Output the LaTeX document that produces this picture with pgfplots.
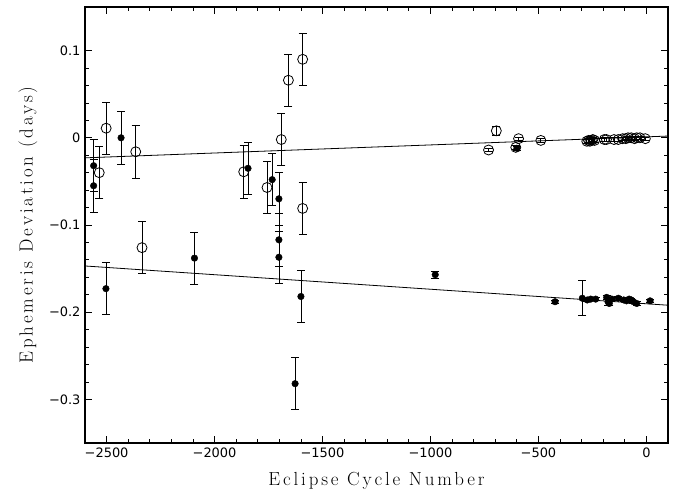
\documentclass[border=0pt]{standalone}
\usepackage{fontspec}
\usepackage{pgfplots}
\pgfplotsset{compat=1.18}
\usepackage{pgfplotstable}
\setsansfont{DejaVu Sans}
\newfontfamily\labelfont{Latin Modern Roman}[LetterSpace=15]

% Open circles, large timing uncertainties (white-filled markers)
\pgfplotstableread{
x y e
-2534 -0.040 0.03
-2502 0.011 0.03
-2365 -0.016 0.03
-2336 -0.126 0.03
-1865 -0.039 0.03
-1757 -0.057 0.03
-1691 -0.002 0.03
-1658 0.066 0.03
-1592 0.090 0.03
-1592 -0.081 0.03
}\openbig

% Open circles, precise timings
\pgfplotstableread{
x y e
-731 -0.014 0.002
-695 0.008 0.005
-605 -0.011 0.002
-592 -0.001 0.002
-489 -0.003 0.002
-276 -0.004 0.002
-268 -0.003 0.002
-262 -0.004 0.002
-255 -0.003 0.002
-248 -0.002 0.002
-240 -0.003 0.002
-195 -0.002 0.002
-185 -0.002 0.002
-150 -0.002 0.002
-130 -0.002 0.002
-110 -0.001 0.002
-95 -0.001 0.002
-85 0.000 0.002
-70 0.000 0.002
-55 -0.001 0.002
-45 0.000 0.002
-30 0.000 0.002
-5 -0.001 0.002
}\opensmall

% Filled circles
\pgfplotstableread{
x y e
-2560 -0.032 0.03
-2560 -0.055 0.03
-2503 -0.173 0.03
-2433 0.000 0.03
-2093 -0.138 0.03
-1845 -0.035 0.03
-1733 -0.048 0.03
-1702 -0.070 0.03
-1702 -0.117 0.03
-1702 -0.137 0.03
-1627 -0.282 0.03
-1600 -0.182 0.03
-978 -0.157 0.004
-600 -0.012 0.002
-423 -0.188 0.002
-297 -0.184 0.02
-274 -0.186 0.002
-258 -0.185 0.002
-235 -0.185 0.002
-184 -0.183 0.002
-178 -0.188 0.004
-172 -0.190 0.002
-160 -0.185 0.002
-130 -0.184 0.002
-105 -0.186 0.002
-92 -0.187 0.002
-80 -0.185 0.002
-70 -0.186 0.002
-60 -0.188 0.002
-45 -0.190 0.002
17 -0.187 0.002
}\filled

\begin{document}
\begin{tikzpicture}
\begin{axis}[
  scale only axis, width=583bp, height=436bp,
  xmin=-2600, xmax=100, ymin=-0.35, ymax=0.15,
  xtick={-2500,-2000,-1500,-1000,-500,0},
  xticklabels={−2500,−2000,−1500,−1000,−500,0},
  ytick={-0.3,-0.2,-0.1,0,0.1},
  yticklabels={−0.3,−0.2,−0.1,0,0.1},
  minor x tick num=4, minor y tick num=4,
  xtick pos=both, ytick pos=both, tick align=inside,
  major tick length=7bp, minor tick length=4bp,
  every tick/.style={black, line width=0.8bp},
  axis line style={line width=1.3bp},
  tick label style={font=\sffamily\fontsize{13}{15}\selectfont},
  xticklabel style={yshift=-1bp},
  yticklabel style={xshift=-1bp},
  xlabel={Eclipse Cycle Number},
  ylabel={Ephemeris Deviation (days)},
  every axis x label/.style={at={(axis description cs:0.5,-0.087)}, anchor=center,
    font=\labelfont\fontsize{19}{22}\selectfont},
  every axis y label/.style={at={(axis description cs:-0.098,0.5)}, anchor=center, rotate=90,
    font=\labelfont\fontsize{19}{22}\selectfont},
  clip=false,
]
% linear ephemeris fits
\addplot[black, line width=0.8bp] coordinates {(-2600,-0.023) (100,0.002)};
\addplot[black, line width=0.8bp] coordinates {(-2600,-0.147) (100,-0.192)};

\addplot[only marks, mark=o, mark size=5bp, black, line width=0.8bp,
  mark options={fill=white},
  error bars/.cd, y dir=both, y explicit,
  error bar style={line width=0.8bp},
  error mark options={rotate=90, mark size=4bp, line width=0.8bp, black}]
  table[x=x, y=y, y error=e]{\openbig};

\addplot[only marks, mark=o, mark size=5bp, black, line width=0.8bp,
  error bars/.cd, y dir=both, y explicit,
  error bar style={line width=0.8bp},
  error mark options={rotate=90, mark size=4bp, line width=0.8bp, black}]
  table[x=x, y=y, y error=e]{\opensmall};

\addplot[only marks, mark=*, mark size=3.3bp, black,
  error bars/.cd, y dir=both, y explicit,
  error bar style={line width=0.8bp},
  error mark options={rotate=90, mark size=4bp, line width=0.8bp, black}]
  table[x=x, y=y, y error=e]{\filled};
\end{axis}
\path ([xshift=-85bp,yshift=-50bp]current axis.south west) rectangle ([xshift=12bp,yshift=7bp]current axis.north east);
\end{tikzpicture}
\end{document}
